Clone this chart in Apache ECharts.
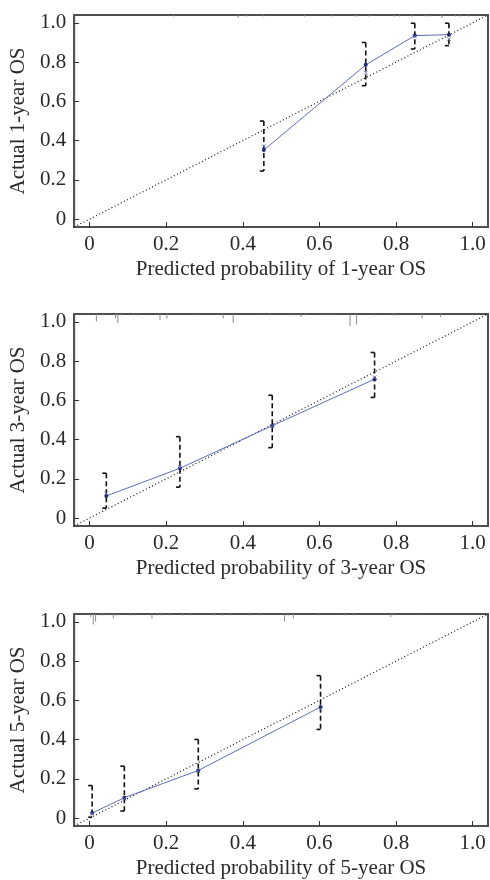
<!DOCTYPE html>
<html>
<head>
<meta charset="utf-8">
<script src="https://cdn.jsdelivr.net/npm/echarts@6/dist/echarts.min.js"></script>
<style>
html,body{margin:0;padding:0;background:#fff;}
#chart{width:490px;height:880px;}
</style>
</head>
<body>
<div id="chart"></div>
<script>
// ---- data ----
const tickValues = [0, 0.2, 0.4, 0.6, 0.8, 1.0];
const tickLabels = ['0', '0.2', '0.4', '0.6', '0.8', '1.0'];
const axisMin = -0.04, axisMax = 1.04;

const xNames = ['Predicted probability of 1-year OS', 'Predicted probability of 3-year OS', 'Predicted probability of 5-year OS'];
const yNames = ['Actual 1-year OS', 'Actual 3-year OS', 'Actual 5-year OS'];

// 1-year
const pred1 = [0.455, 0.721, 0.849, 0.938];
const obs1  = [0.352, 0.786, 0.935, 0.940];
const corr1 = [0.372, 0.746, 0.930, 0.918];
const lo1   = [0.245, 0.680, 0.867, 0.884];
const hi1   = [0.500, 0.900, 0.998, 0.998];
const rugX1 = [0.219, 0.388, 0.410, 0.455, 0.561, 0.635, 0.691, 0.697, 0.730, 0.795, 0.808, 0.842, 0.877, 0.886, 0.920, 0.955, 0.968, 0.990];
const rugN1 = [1, 2, 1, 1, 1, 1, 1, 1, 1, 1, 1, 1, 1, 1, 2, 1, 1, 1];

// 3-year
const pred3 = [0.044, 0.236, 0.477, 0.744];
const obs3  = [0.113, 0.254, 0.471, 0.708];
const corr3 = [0.127, 0.260, 0.470, 0.718];
const lo3   = [0.051, 0.158, 0.359, 0.615];
const hi3   = [0.229, 0.415, 0.626, 0.844];
const rugX3 = [0.018, 0.037, 0.068, 0.074, 0.085, 0.115, 0.124, 0.184, 0.202, 0.275, 0.349, 0.375, 0.444, 0.470, 0.526, 0.539, 0.552, 0.561, 0.609, 0.630, 0.680, 0.697, 0.745, 0.790, 0.799, 0.868, 0.916];
const rugN3 = [5, 1, 3, 6, 1, 1, 1, 4, 3, 1, 3, 6, 1, 1, 1, 1, 2, 1, 1, 1, 8, 7, 1, 1, 1, 3, 2];

// 5-year
const pred5 = [0.007, 0.091, 0.284, 0.603];
const obs5  = [0.026, 0.104, 0.243, 0.566];
const corr5 = [0.020, 0.100, 0.240, 0.555];
const lo5   = [0.005, 0.036, 0.149, 0.452];
const hi5   = [0.166, 0.265, 0.401, 0.726];
const rugX5 = [0.003, 0.010, 0.016, 0.027, 0.037, 0.048, 0.062, 0.072, 0.106, 0.119, 0.163, 0.177, 0.189, 0.210, 0.245, 0.262, 0.319, 0.327, 0.349, 0.366, 0.418, 0.444, 0.509, 0.518, 0.532, 0.596, 0.665, 0.686, 0.786, 0.795, 0.860];
const rugN5 = [2, 7, 5, 1, 1, 1, 3, 1, 1, 1, 3, 1, 1, 1, 1, 1, 1, 1, 1, 1, 1, 1, 5, 1, 3, 1, 1, 1, 2, 1, 1];

const panels = [
  {pred: pred1, obs: obs1, corr: corr1, lo: lo1, hi: hi1, rugX: rugX1, rugN: rugN1},
  {pred: pred3, obs: obs3, corr: corr3, lo: lo3, hi: hi3, rugX: rugX3, rugN: rugN3},
  {pred: pred5, obs: obs5, corr: corr5, lo: lo5, hi: hi5, rugX: rugX5, rugN: rugN5}
];

// ---- styling / layout ----
const FONT = '"Liberation Serif", "Times New Roman", serif';
const TXT = '#2a2a2a';
const gridTops = [15, 314, 614];
const RUG_UNIT = 1.5;

function fmt(v) {
  const i = tickValues.findIndex(t => Math.abs(t - v) < 1e-6);
  return i >= 0 ? tickLabels[i] : '';
}

const grid = [], xAxis = [], yAxis = [], series = [];
panels.forEach((p, k) => {
  grid.push({left: 74, right: 2, top: gridTops[k], height: 212, show: true, borderColor: '#505050', borderWidth: 2, backgroundColor: 'transparent'});
  const common = {
    gridIndex: k, type: 'value', min: axisMin, max: axisMax,
    splitLine: {show: false},
    axisLine: {show: true, onZero: false, lineStyle: {color: '#505050', width: 2}},
    axisTick: {show: true, inside: true, length: 5, customValues: tickValues, lineStyle: {color: '#333', width: 1}},
    axisLabel: {customValues: tickValues, formatter: fmt, color: TXT, fontFamily: FONT, fontSize: 21},
    nameLocation: 'middle',
    nameTextStyle: {color: TXT, fontFamily: FONT, fontSize: 21}
  };
  xAxis.push(Object.assign({}, common, {name: xNames[k], nameGap: 32, axisLabel: Object.assign({}, common.axisLabel, {margin: 7})}));
  yAxis.push(Object.assign({}, common, {name: yNames[k], nameGap: 41, axisLabel: Object.assign({}, common.axisLabel, {margin: 8})}));

  // diagonal reference
  series.push({type: 'line', xAxisIndex: k, yAxisIndex: k, data: [[axisMin, axisMin], [axisMax, axisMax]],
    symbol: 'none', silent: true, lineStyle: {color: '#111', width: 1.2, type: [1, 2.5]}, z: 2});

  // rug at top
  series.push({type: 'custom', xAxisIndex: k, yAxisIndex: k, silent: true, z: 3,
    data: p.rugX.map((x, i) => [x, p.rugN[i]]),
    renderItem: function (params, api) {
      const c = api.coord([api.value(0), axisMax]);
      const len = api.value(1) * RUG_UNIT;
      return {type: 'line', shape: {x1: c[0], y1: c[1], x2: c[0], y2: c[1] + len}, style: {stroke: '#8a8a8a', lineWidth: 1}};
    }
  });

  // error bars
  series.push({type: 'custom', xAxisIndex: k, yAxisIndex: k, silent: true, z: 4,
    data: p.pred.map((x, i) => [x, p.lo[i], p.hi[i]]),
    renderItem: function (params, api) {
      const t = api.coord([api.value(0), api.value(2)]);
      const b = api.coord([api.value(0), api.value(1)]);
      const st = {stroke: '#111', lineWidth: 1.6};
      return {type: 'group', children: [
        {type: 'line', shape: {x1: t[0], y1: t[1], x2: b[0], y2: b[1]}, style: Object.assign({lineDash: [5, 3]}, st)},
        {type: 'line', shape: {x1: t[0] - 4, y1: t[1], x2: t[0], y2: t[1]}, style: st},
        {type: 'line', shape: {x1: b[0] - 4, y1: b[1], x2: b[0], y2: b[1]}, style: st}
      ]};
    }
  });

  // observed line
  series.push({type: 'line', xAxisIndex: k, yAxisIndex: k, data: p.pred.map((x, i) => [x, p.obs[i]]),
    symbol: 'circle', symbolSize: 4, itemStyle: {color: '#1c2a6e'},
    lineStyle: {color: '#5d6db8', width: 1}, z: 5, silent: true});

  // bias-corrected markers
  series.push({type: 'scatter', xAxisIndex: k, yAxisIndex: k, data: p.pred.map((x, i) => [x, p.corr[i]]),
    symbol: 'path://M0,0L10,10M10,0L0,10', symbolSize: 4,
    itemStyle: {color: 'none', borderColor: '#6b7bc4', borderWidth: 1}, z: 6, silent: true});
});

const chart = echarts.init(document.getElementById('chart'), null, {renderer: 'canvas'});
chart.setOption({animation: false, backgroundColor: '#fff', grid, xAxis, yAxis, series});
</script>
</body>
</html>
